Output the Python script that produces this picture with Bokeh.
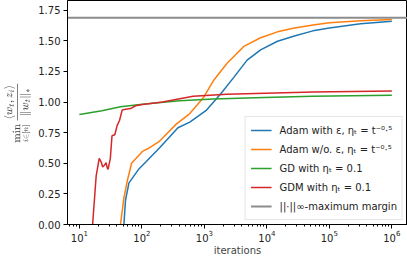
from bokeh.plotting import figure
from bokeh.models import Range1d, FixedTicker, NumeralTickFormatter, LogTicker, Legend, LegendItem
from bokeh.embed import file_html
from bokeh.resources import INLINE

# Adam with eps
adam_eps_x = [48.6, 51.6, 54.8, 62.2, 90.4, 115.6, 191, 378, 585, 1086, 1791, 2938, 4831, 7943, 14791, 27542, 54576, 100000, 316228, 1000000]
adam_eps_y = [-0.2, 0.0, 0.20, 0.34, 0.456, 0.51, 0.625, 0.79, 0.836, 0.935, 1.062, 1.20, 1.343, 1.427, 1.497, 1.54, 1.582, 1.605, 1.64, 1.661]
# Adam without eps
adam_x = [40.5, 45.5, 51.6, 58.5, 68.5, 102, 131, 191, 355, 585, 955, 1393, 2291, 4266, 7943, 14791, 27542, 54954, 100000, 316228, 1000000]
adam_y = [-0.2, 0.0, 0.217, 0.357, 0.50, 0.597, 0.625, 0.68, 0.82, 0.906, 1.033, 1.174, 1.315, 1.455, 1.526, 1.574, 1.605, 1.63, 1.648, 1.665, 1.675]
# GD
gd_x = [10, 23, 45.5, 102, 400, 1393, 9016, 54000, 1000000]
gd_y = [0.899, 0.93, 0.962, 0.983, 1.01, 1.025, 1.038, 1.047, 1.056]
# GDM
gdm_x = [15.5, 16.3, 18.6, 20.8, 22.4, 23.6, 25.4, 26.7, 28.0, 28.8, 31.3, 33.3, 36.9, 40.3, 43.9, 48.5, 54.8, 66, 79.4, 102, 214, 661, 2291, 54954, 1000000]
gdm_y = [-0.3, 0.0, 0.40, 0.54, 0.51, 0.47, 0.486, 0.506, 0.46, 0.45, 0.54, 0.725, 0.733, 0.81, 0.85, 0.936, 0.941, 0.947, 0.97, 0.98, 1.0, 1.047, 1.065, 1.082, 1.09]
max_margin = 1.689

y_ticks = [0.0, 0.25, 0.5, 0.75, 1.0, 1.25, 1.5, 1.75]
labels = ["Adam with ε, ηₜ = t⁻⁰·⁵", "Adam w/o. ε, ηₜ = t⁻⁰·⁵", "GD with ηₜ = 0.1", "GDM with ηₜ = 0.1", "||·||∞-maximum margin"]
colors = ["#1f77b4", "#ff7f0e", "#2ca02c", "#d62728", "#8c8c8c"]

p = figure(width=407, height=258, x_axis_type="log", output_backend="svg", toolbar_location=None,
           x_range=Range1d(6.46, 1.78e6), y_range=Range1d(0, 1.83),
           min_border_left=58, min_border_right=0, min_border_top=0, min_border_bottom=30)
p.background_fill_color = "white"
p.outline_line_color = "black"
p.outline_line_width = 1
p.xgrid.visible = False
p.ygrid.visible = False

font = "DejaVu Sans"
for ax in (p.xaxis[0], p.yaxis[0]):
    ax.axis_line_color = "black"
    ax.major_tick_line_color = "black"
    ax.minor_tick_line_color = "black"
    ax.major_tick_out = 4
    ax.major_tick_in = 0
    ax.minor_tick_out = 2
    ax.minor_tick_in = 0
    ax.major_label_text_font = font
    ax.major_label_text_font_size = "10px"
    ax.major_label_text_color = "#222222"
    ax.major_label_standoff = 1
    ax.axis_label_text_font = font
    ax.axis_label_text_font_size = "10px"
    ax.axis_label_text_font_style = "normal"
    ax.axis_label_standoff = 0

p.xaxis.ticker = LogTicker(num_minor_ticks=10, desired_num_ticks=6)
p.xaxis.axis_label = "iterations"
p.yaxis.major_label_standoff = 3
p.yaxis.ticker = FixedTicker(ticks=y_ticks)
p.yaxis.formatter = NumeralTickFormatter(format="0.00")
p.yaxis.minor_tick_line_color = None
p.yaxis.axis_label = r"$$\min_{i\in[n]}\frac{\langle w_t, z_i\rangle}{\|w_t\|_*}$$"
p.yaxis.axis_label_text_font_size = "9px"
p.yaxis.axis_label_standoff = 4

r1 = p.line(adam_eps_x, adam_eps_y, color=colors[0], line_width=1.5)
r2 = p.line(adam_x, adam_y, color=colors[1], line_width=1.5)
r3 = p.line(gd_x, gd_y, color=colors[2], line_width=1.5)
r4 = p.line(gdm_x, gdm_y, color=colors[3], line_width=1.5)
r5 = p.line([6.46, 1.78e6], [max_margin, max_margin], color=colors[4], line_width=2)

legend = Legend(items=[LegendItem(label=l, renderers=[r]) for l, r in zip(labels, [r1, r2, r3, r4, r5])],
                location="bottom_right")
legend.margin = 4
legend.padding = 5
legend.spacing = 3
legend.label_height = 16
legend.glyph_height = 16
legend.glyph_width = 21
legend.label_standoff = 8
legend.label_text_font = font
legend.label_text_font_size = "10px"
legend.label_text_color = "#222222"
legend.border_line_color = "#cccccc"
legend.border_line_width = 1
legend.background_fill_alpha = 0.8
p.add_layout(legend, "center")

open("out.html", "w").write(file_html(p, INLINE))
